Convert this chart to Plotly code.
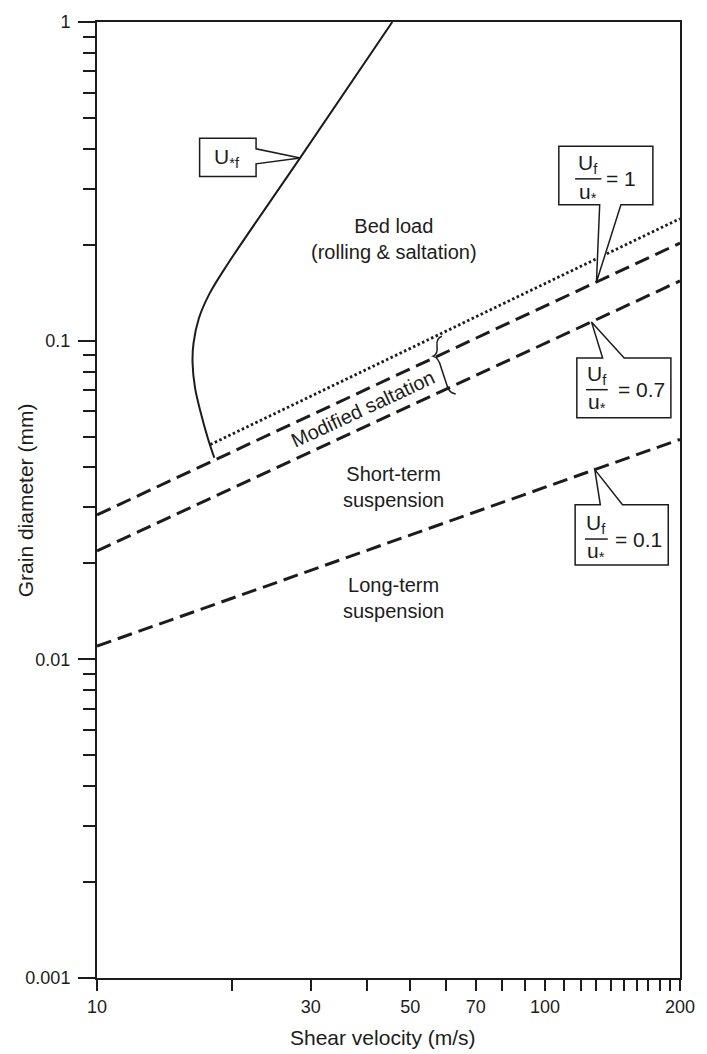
import numpy as np
import plotly.graph_objects as go

# ---------------- data ----------------
x_major_ticks = [10, 30, 50, 70, 100, 200]
x_major_labels = ["10", "30", "50", "70", "100", "200"]
x_minor_ticks = [20, 40, 60, 80, 90, 110, 120, 130, 140, 150, 160, 170, 180, 190]
y_major_ticks = [0.001, 0.01, 0.1, 1]
y_major_labels = ["0.001", "0.01", "0.1", "1"]
y_minor_ticks = [m * d for d in (0.001, 0.01, 0.1) for m in range(2, 10)]

# threshold shear velocity curve U*f
threshold_x = [45.6, 28.4, 19.54, 17.84, 16.88, 16.42, 16.34, 16.55, 17.05, 17.66, 18.27]
threshold_y = [1.0, 0.3745, 0.1734, 0.1407, 0.1176, 0.0982, 0.0851, 0.0711, 0.0593, 0.0496, 0.0429]

# upper limit of modified saltation (dotted)
dotted_x = [17.9, 200]
dotted_y = [0.0472, 0.2415]

# Uf/u* = 1, 0.7, 0.1 (dashed)
ratio1_x = [10, 200]
ratio1_y = [0.0284, 0.2024]
ratio07_x = [10, 200]
ratio07_y = [0.0219, 0.154]
ratio01_x = [10, 200]
ratio01_y = [0.0110, 0.049]

# ---------------- figure ----------------
INK = "#1c1c1c"
FONT = "Liberation Sans, Arial, sans-serif"
LX0, LX1 = 1.0, np.log10(200)
LY0, LY1 = -3.0, 0.0


def to_paper(lx, ly):
    return (lx - LX0) / (LX1 - LX0), (ly - LY0) / (LY1 - LY0)


def on_line(xs, ys, x):
    ly = np.interp(np.log10(x), np.log10(xs), np.log10(ys))
    return np.log10(x), ly


fig = go.Figure()
fig.add_trace(go.Scatter(x=threshold_x, y=threshold_y, mode="lines",
                         line=dict(color=INK, width=2, shape="spline", smoothing=1.0),
                         showlegend=False, hoverinfo="skip"))
fig.add_trace(go.Scatter(x=dotted_x, y=dotted_y, mode="lines",
                         line=dict(color=INK, width=2.8, dash="2.5px,2.5px"),
                         showlegend=False, hoverinfo="skip"))
for xs, ys in ((ratio1_x, ratio1_y), (ratio07_x, ratio07_y), (ratio01_x, ratio01_y)):
    fig.add_trace(go.Scatter(x=xs, y=ys, mode="lines",
                             line=dict(color=INK, width=3, dash="15px,7px"),
                             showlegend=False, hoverinfo="skip"))

shapes = []
annotations = []


def text_at(lx, ly, txt, size, ref="x", angle=0):
    annotations.append(dict(x=lx, y=ly, xref=ref if ref == "paper" else "x",
                            yref=ref if ref == "paper" else "y", showarrow=False,
                            text=txt, textangle=angle, align="center",
                            xanchor="center", yanchor="middle",
                            font=dict(size=size, color=INK, family=FONT)))


def path_from(points):
    pts = [to_paper(a, b) for a, b in points]
    return "M " + " L ".join(f"{px:.5f},{py:.5f}" for px, py in pts) + " Z"


def add_box(points):
    shapes.append(dict(type="path", xref="paper", yref="paper", path=path_from(points),
                       line=dict(color=INK, width=1.5), fillcolor="white", layer="above"))


# U*f callout (pointer on right side)
tip = (np.log10(threshold_x[1]), np.log10(threshold_y[1]))
x0, x1, yt, yb = 1.229, 1.355, -0.365, -0.485
add_box([(x0, yt), (x1, yt), (x1, -0.398), tip, (x1, -0.445), (x1, yb), (x0, yb)])
text_at(1.290, -0.428, "U<sub>*f</sub>", 21)


def fraction_callout(box, base, tip, pointer_side, text_lx, u_ly, bar, d_ly, eq_lx, eq_text):
    x0, x1, yt, yb = box
    a, b = base
    if pointer_side == "bottom":
        pts = [(x0, yt), (x1, yt), (x1, yb), (b, yb), tip, (a, yb), (x0, yb)]
    else:
        pts = [(x0, yt), (a, yt), tip, (b, yt), (x1, yt), (x1, yb), (x0, yb)]
    add_box(pts)
    text_at(text_lx, u_ly, "U<sub>f</sub>", 21)
    text_at(text_lx, d_ly, "u<sub>*</sub>", 21)
    bx0, bx1, bly = bar
    p0 = to_paper(bx0, bly)
    p1 = to_paper(bx1, bly)
    shapes.append(dict(type="line", xref="paper", yref="paper", x0=p0[0], y0=p0[1],
                       x1=p1[0], y1=p1[1], line=dict(color=INK, width=1.5), layer="above"))
    text_at(eq_lx, bly, eq_text, 21)


fraction_callout((2.0306, 2.2405, -0.390, -0.5734), (2.1218, 2.1692),
                 on_line(ratio1_x, ratio1_y, 130.2), "bottom",
                 2.0962, -0.447, (2.067, 2.1255, -0.4922), -0.537, 2.170, "= 1")
fraction_callout((2.0708, 2.2807, -1.0547, -1.2422), (2.1284, 2.1765),
                 on_line(ratio07_x, ratio07_y, 126.9), "top",
                 2.1153, -1.108, (2.0912, 2.1399, -1.1538), -1.195, 2.214, "= 0.7")
fraction_callout((2.0670, 2.2748, -1.515, -1.7038), (2.1232, 2.1727),
                 on_line(ratio01_x, ratio01_y, 129.1), "top",
                 2.1145, -1.576, (2.0890, 2.1399, -1.6225), -1.662, 2.208, "= 0.1")

# brace spanning modified saltation
brace = [(1.7697, -0.9859), (1.7566, -0.9922), (1.7588, -1.0172), (1.7610, -1.0422),
         (1.7501, -1.0484), (1.7632, -1.0547), (1.7675, -1.0828), (1.7807, -1.1391),
         (1.7851, -1.1641), (1.8003, -1.1672)]
bp = [to_paper(a, b) for a, b in brace]
bpath = (f"M {bp[0][0]:.5f},{bp[0][1]:.5f} Q {bp[1][0]:.5f},{bp[1][1]:.5f} {bp[2][0]:.5f},{bp[2][1]:.5f} "
         f"Q {bp[3][0]:.5f},{bp[3][1]:.5f} {bp[4][0]:.5f},{bp[4][1]:.5f} "
         f"Q {bp[5][0]:.5f},{bp[5][1]:.5f} {bp[6][0]:.5f},{bp[6][1]:.5f} "
         f"L {bp[7][0]:.5f},{bp[7][1]:.5f} "
         f"Q {bp[8][0]:.5f},{bp[8][1]:.5f} {bp[9][0]:.5f},{bp[9][1]:.5f}")
shapes.append(dict(type="path", xref="paper", yref="paper", path=bpath,
                   line=dict(color=INK, width=1.5), layer="above"))

# region labels
text_at(1.6626, -0.681, "Bed load<br>(rolling & saltation)", 20)
text_at(1.6626, -1.459, "Short-term<br>suspension", 20)
text_at(1.6626, -1.806, "Long-term<br>suspension", 20)
text_at(1.5926, -1.214, "Modified saltation", 20, angle=-25)

# axis titles
text_at(0.49, -0.0624, "Shear velocity (m/s)", 21, ref="paper")
text_at(-0.123, 0.5, "Grain diameter (mm)", 21, ref="paper", angle=-90)

fig.update_layout(
    width=707, height=1054,
    margin=dict(l=97, r=15, t=17, b=76),
    paper_bgcolor="white", plot_bgcolor="white",
    shapes=shapes, annotations=annotations,
    showlegend=False,
    xaxis=dict(type="log", range=[LX0, LX1], showgrid=False, zeroline=False,
               showline=True, linecolor=INK, linewidth=2, mirror=True,
               tickmode="array", tickvals=x_major_ticks, ticktext=x_major_labels,
               ticks="outside", ticklen=11, tickwidth=2, tickcolor=INK,
               ticklabeloverflow="allow",
               tickfont=dict(size=18, color=INK, family=FONT),
               minor=dict(tickmode="array", tickvals=x_minor_ticks, ticks="outside",
                          ticklen=11, tickwidth=2, tickcolor=INK, showgrid=False)),
    yaxis=dict(type="log", range=[LY0, LY1], showgrid=False, zeroline=False,
               showline=True, linecolor=INK, linewidth=2, mirror=True,
               tickmode="array", tickvals=y_major_ticks, ticktext=y_major_labels,
               ticks="outside", ticklen=17, tickwidth=2, tickcolor=INK,
               ticklabelstandoff=4, ticklabeloverflow="allow",
               tickfont=dict(size=18, color=INK, family=FONT),
               minor=dict(tickmode="array", tickvals=y_minor_ticks, ticks="outside",
                          ticklen=12, tickwidth=2, tickcolor=INK, showgrid=False)),
)

fig.write_html("out.html", config={"displayModeBar": False},
               post_script="document.body.style.margin='0';document.body.style.overflow='hidden';")
